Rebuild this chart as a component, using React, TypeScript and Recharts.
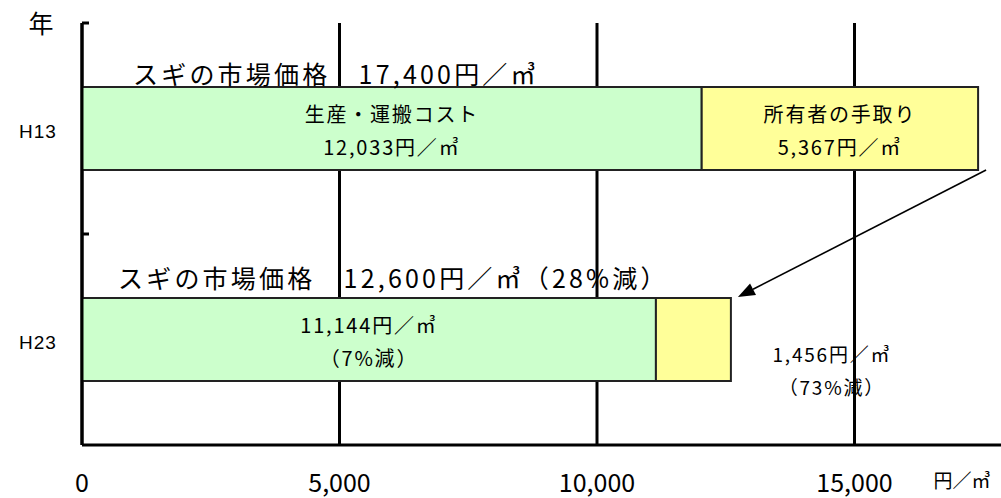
import { BarChart, Bar, XAxis, YAxis, CartesianGrid, LabelList, usePlotArea } from "recharts";

const years = ["H13", "H23"];
const productionCosts = [12033, 11144];
const ownerReturns = [5367, 1456];
const xTicks = [0, 5000, 10000, 15000];
const X_MAX = 18000;

const data = years.map((year, i) => ({ year, cost: productionCosts[i], owner: ownerReturns[i] }));

const JP = '"Noto Sans CJK JP", "Noto Sans CJK SC", sans-serif';
const UNIT = "円／㎥";
const BAR_SIZE = 83;
const fmt = (v: number) => v.toLocaleString("en-US");
const cutPct = (now: number, before: number) => Math.round((1 - now / before) * 100);
const marketPrice = (i: number) => productionCosts[i] + ownerReturns[i];

// title offsets above each bar (dx from bar start, dy above bar top)
const titleDx = [51, 36];
const titleDy = [14, 21];

const box = (p: any) => {
  const vb = p.viewBox ?? {};
  return {
    x: p.x ?? vb.x,
    y: p.y ?? vb.y,
    width: p.width ?? vb.width,
    height: p.height ?? vb.height,
  };
};

const TwoLines = ({ cx, cy, lines, size = 20 }: { cx: number; cy: number; lines: string[]; size?: number }) => (
  <g>
    {lines.map((t, k) => (
      <text
        key={k}
        x={cx}
        y={cy + k * 33}
        textAnchor="middle"
        dominantBaseline="central"
        fontFamily={JP}
        fontSize={size}
        letterSpacing={1.8}
        fill="#000"
      >
        {t}
      </text>
    ))}
  </g>
);

const CostLabel = (props: any) => {
  const { x, y, width, height } = box(props);
  const i = props.index ?? 0;
  const cx = x + width / 2;
  const cy = y + height / 2 - 15;
  const lines =
    i === 0
      ? ["生産・運搬コスト", fmt(productionCosts[0]) + UNIT]
      : [fmt(productionCosts[1]) + UNIT, `（${cutPct(productionCosts[1], productionCosts[0])}%減）`];
  const title =
    i === 0
      ? `スギの市場価格　${fmt(marketPrice(0))}${UNIT}`
      : `スギの市場価格　${fmt(marketPrice(1))}${UNIT}（${cutPct(marketPrice(1), marketPrice(0))}%減）`;
  return (
    <g>
      <text
        x={x + titleDx[i]}
        y={y - titleDy[i]}
        dominantBaseline="central"
        fontFamily={JP}
        fontSize={25}
        letterSpacing={3.2}
        fill="#000"
      >
        {title}
      </text>
      <TwoLines cx={cx} cy={cy} lines={lines} />
    </g>
  );
};

const OwnerLabel = (props: any) => {
  const { x, y, width, height } = box(props);
  const i = props.index ?? 0;
  if (i === 0) {
    return (
      <TwoLines
        cx={x + width / 2}
        cy={y + height / 2 - 15}
        lines={["所有者の手取り", fmt(ownerReturns[0]) + UNIT]}
      />
    );
  }
  return (
    <TwoLines
      cx={x + width + 101}
      cy={y + height / 2 + 14}
      lines={[fmt(ownerReturns[1]) + UNIT, `（${cutPct(ownerReturns[1], ownerReturns[0])}%減）`]}
      size={19}
    />
  );
};

const XTick = (props: any) => (
  <text
    x={props.x}
    y={props.y + 36}
    textAnchor="middle"
    dominantBaseline="central"
    fontFamily={JP}
    fontSize={25}
    fill="#000"
  >
    {fmt(props.payload.value)}
  </text>
);

const YTick = (props: any) => (
  <text
    x={props.x - 44}
    y={props.y + 3}
    textAnchor="middle"
    dominantBaseline="central"
    fontFamily='"Liberation Sans", Arial, sans-serif'
    fontSize={19}
    letterSpacing={1}
    fill="#000"
  >
    {props.payload.value}
  </text>
);

// arrow from the H13 price end to the H23 price end, category tick marks, axis captions
const Overlay = () => {
  const plot = usePlotArea();
  if (!plot) return null;
  const sx = (v: number) => plot.x + (v / X_MAX) * plot.width;
  const band = plot.height / years.length;
  const barTop = (i: number) => plot.y + band * i + (band - BAR_SIZE) / 2;

  const x1 = sx(marketPrice(0)) + 8;
  const y1 = barTop(0) + BAR_SIZE;
  const x2 = sx(marketPrice(1)) + 7;
  const y2 = barTop(1) - 1;
  const len = Math.hypot(x2 - x1, y2 - y1);
  const ux = (x2 - x1) / len;
  const uy = (y2 - y1) / len;
  const headL = 17;
  const headW = 6.5;
  const bx = x2 - ux * headL;
  const by = y2 - uy * headL;
  const head = `${x2},${y2} ${bx - uy * headW},${by + ux * headW} ${bx + uy * headW},${by - ux * headW}`;

  return (
    <g>
      {years.map((_, i) => (
        <line
          key={i}
          x1={plot.x}
          x2={plot.x + 7}
          y1={plot.y + band * i}
          y2={plot.y + band * i}
          stroke="#000"
          strokeWidth={3}
        />
      ))}
      <line x1={x1} y1={y1} x2={bx} y2={by} stroke="#000" strokeWidth={1.6} />
      <polygon points={head} fill="#000" />
      <text x={41} y={22} textAnchor="middle" dominantBaseline="central" fontFamily={JP} fontSize={25} fill="#000">
        年
      </text>
      <text x={962} y={479} textAnchor="middle" dominantBaseline="central" fontFamily={JP} fontSize={19} fill="#000">
        {UNIT}
      </text>
    </g>
  );
};

export default function App() {
  return (
    <div style={{ position: "absolute", left: 0, top: 0, width: 1001, height: 498, overflow: "hidden", background: "#fff" }}>
      <BarChart
        width={1009}
        height={498}
        data={data}
        layout="vertical"
        margin={{ top: 23, right: 0, bottom: 0, left: 0 }}
        barSize={BAR_SIZE}
      >
        <CartesianGrid horizontal={false} stroke="#000" strokeWidth={3} />
        <XAxis
          type="number"
          domain={[0, X_MAX]}
          ticks={xTicks}
          height={53}
          axisLine={{ stroke: "#000", strokeWidth: 3 }}
          tickLine={false}
          tickSize={0}
          tickMargin={0}
          tick={<XTick />}
          interval={0}
        />
        <YAxis
          type="category"
          dataKey="year"
          width={82}
          axisLine={{ stroke: "#000", strokeWidth: 3 }}
          tickLine={false}
          tickSize={0}
          tickMargin={0}
          tick={<YTick />}
        />
        <Bar dataKey="cost" stackId="a" fill="#CCFFCC" stroke="#222" strokeWidth={2} isAnimationActive={false}>
          <LabelList dataKey="cost" content={<CostLabel />} />
        </Bar>
        <Bar dataKey="owner" stackId="a" fill="#FFFF99" stroke="#222" strokeWidth={2} isAnimationActive={false}>
          <LabelList dataKey="owner" content={<OwnerLabel />} />
        </Bar>
        <Overlay />
      </BarChart>
    </div>
  );
}
